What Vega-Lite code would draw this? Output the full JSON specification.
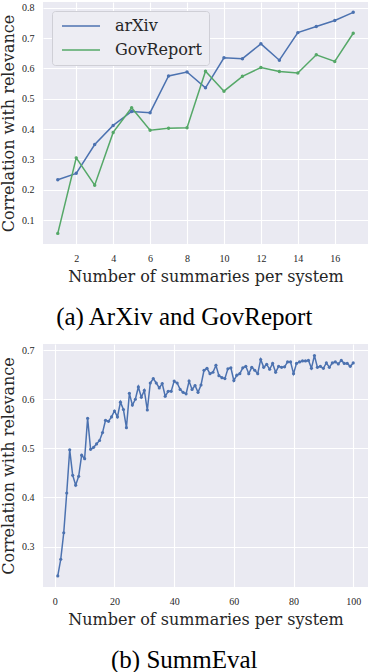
{
  "$schema": "https://vega.github.io/schema/vega-lite/v6.json",
  "padding": {"left": 0, "top": 2, "right": 0, "bottom": 0},
  "background": "white",
  "spacing": 14,
  "config": {
    "view": {"stroke": null, "fill": "#EAEAF2"},
    "axis": {
      "domain": false, "ticks": false, "tickSize": 0,
      "gridColor": "white", "gridWidth": 1.1,
      "labelFont": "Liberation Serif", "labelFontSize": 10, "labelColor": "#262626",
      "labelPadding": 9,
      "titleFont": "DejaVu Serif", "titleFontSize": 16, "titleFontWeight": "normal", "titleColor": "#262626"
    },
    "title": {"font": "Liberation Serif", "fontSize": 25, "fontWeight": "normal", "color": "black"}
  },
  "vconcat": [
    {
      "title": {"text": "(a) ArXiv and GovReport", "orient": "bottom", "anchor": "middle", "frame": "bounds", "offset": 21},
      "width": 325,
      "height": 242,
      "data": {"values": [
        {"n": 1, "series": "arXiv", "corr": 0.233},
        {"n": 2, "series": "arXiv", "corr": 0.254},
        {"n": 3, "series": "arXiv", "corr": 0.349},
        {"n": 4, "series": "arXiv", "corr": 0.412},
        {"n": 5, "series": "arXiv", "corr": 0.458},
        {"n": 6, "series": "arXiv", "corr": 0.454},
        {"n": 7, "series": "arXiv", "corr": 0.575},
        {"n": 8, "series": "arXiv", "corr": 0.588},
        {"n": 9, "series": "arXiv", "corr": 0.536},
        {"n": 10, "series": "arXiv", "corr": 0.635},
        {"n": 11, "series": "arXiv", "corr": 0.632},
        {"n": 12, "series": "arXiv", "corr": 0.681},
        {"n": 13, "series": "arXiv", "corr": 0.627},
        {"n": 14, "series": "arXiv", "corr": 0.718},
        {"n": 15, "series": "arXiv", "corr": 0.738},
        {"n": 16, "series": "arXiv", "corr": 0.758},
        {"n": 17, "series": "arXiv", "corr": 0.785},
        {"n": 1, "series": "GovReport", "corr": 0.056},
        {"n": 2, "series": "GovReport", "corr": 0.305},
        {"n": 3, "series": "GovReport", "corr": 0.215},
        {"n": 4, "series": "GovReport", "corr": 0.389},
        {"n": 5, "series": "GovReport", "corr": 0.470},
        {"n": 6, "series": "GovReport", "corr": 0.396},
        {"n": 7, "series": "GovReport", "corr": 0.403},
        {"n": 8, "series": "GovReport", "corr": 0.404},
        {"n": 9, "series": "GovReport", "corr": 0.591},
        {"n": 10, "series": "GovReport", "corr": 0.525},
        {"n": 11, "series": "GovReport", "corr": 0.574},
        {"n": 12, "series": "GovReport", "corr": 0.603},
        {"n": 13, "series": "GovReport", "corr": 0.590},
        {"n": 14, "series": "GovReport", "corr": 0.585},
        {"n": 15, "series": "GovReport", "corr": 0.645},
        {"n": 16, "series": "GovReport", "corr": 0.623},
        {"n": 17, "series": "GovReport", "corr": 0.716}
      ]},
      "mark": {"type": "line", "strokeWidth": 1.5, "point": {"size": 12, "filled": true}},
      "encoding": {
        "x": {"field": "n", "type": "quantitative", "title": "Number of summaries per system",
              "scale": {"domain": [0.2, 17.8], "nice": false, "zero": false},
              "axis": {"values": [2, 4, 6, 8, 10, 12, 14, 16], "titlePadding": 5}},
        "y": {"field": "corr", "type": "quantitative", "title": "Correlation with relevance",
              "scale": {"domain": [0.021, 0.819], "nice": false, "zero": false},
              "axis": {"values": [0.1, 0.2, 0.3, 0.4, 0.5, 0.6, 0.7, 0.8], "format": ".1f", "titlePadding": 5}},
        "color": {"field": "series", "type": "nominal",
                  "scale": {"domain": ["arXiv", "GovReport"], "range": ["#4C72B0", "#55A868"]},
                  "legend": {"orient": "none", "legendX": 9, "legendY": 9, "title": null,
                             "symbolType": "M-4.75,0H4.75", "symbolSize": 64, "symbolStrokeWidth": 1.5,
                             "symbolOffset": 14,
                             "labelFont": "DejaVu Serif", "labelFontSize": 16, "labelColor": "#262626",
                             "labelOffset": 26, "rowPadding": 8, "padding": 7,
                             "fillColor": "#EDEDF3", "strokeColor": "#CFCFD6", "cornerRadius": 3}}
      }
    },
    {
      "title": {"text": "(b) SummEval", "orient": "bottom", "anchor": "middle", "frame": "bounds", "offset": 21},
      "width": 325,
      "height": 243,
      "data": {"values": [
        {"n": 1, "corr": 0.240}, {"n": 2, "corr": 0.274}, {"n": 3, "corr": 0.328}, {"n": 4, "corr": 0.409},
        {"n": 5, "corr": 0.497}, {"n": 6, "corr": 0.445}, {"n": 7, "corr": 0.425}, {"n": 8, "corr": 0.443},
        {"n": 9, "corr": 0.486}, {"n": 10, "corr": 0.479}, {"n": 11, "corr": 0.561}, {"n": 12, "corr": 0.498},
        {"n": 13, "corr": 0.502}, {"n": 14, "corr": 0.509}, {"n": 15, "corr": 0.516}, {"n": 16, "corr": 0.532},
        {"n": 17, "corr": 0.557}, {"n": 18, "corr": 0.555}, {"n": 19, "corr": 0.564}, {"n": 20, "corr": 0.576},
        {"n": 21, "corr": 0.564}, {"n": 22, "corr": 0.594}, {"n": 23, "corr": 0.579}, {"n": 24, "corr": 0.542},
        {"n": 25, "corr": 0.612}, {"n": 26, "corr": 0.588}, {"n": 27, "corr": 0.600}, {"n": 28, "corr": 0.625},
        {"n": 29, "corr": 0.604}, {"n": 30, "corr": 0.618}, {"n": 31, "corr": 0.578}, {"n": 32, "corr": 0.633},
        {"n": 33, "corr": 0.642}, {"n": 34, "corr": 0.633}, {"n": 35, "corr": 0.623}, {"n": 36, "corr": 0.632},
        {"n": 37, "corr": 0.606}, {"n": 38, "corr": 0.616}, {"n": 39, "corr": 0.616}, {"n": 40, "corr": 0.637},
        {"n": 41, "corr": 0.633}, {"n": 42, "corr": 0.620}, {"n": 43, "corr": 0.614}, {"n": 44, "corr": 0.611},
        {"n": 45, "corr": 0.637}, {"n": 46, "corr": 0.620}, {"n": 47, "corr": 0.628}, {"n": 48, "corr": 0.614},
        {"n": 49, "corr": 0.629}, {"n": 50, "corr": 0.659}, {"n": 51, "corr": 0.663}, {"n": 52, "corr": 0.652},
        {"n": 53, "corr": 0.655}, {"n": 54, "corr": 0.669}, {"n": 55, "corr": 0.648}, {"n": 56, "corr": 0.644},
        {"n": 57, "corr": 0.642}, {"n": 58, "corr": 0.662}, {"n": 59, "corr": 0.664}, {"n": 60, "corr": 0.638},
        {"n": 61, "corr": 0.649}, {"n": 62, "corr": 0.652}, {"n": 63, "corr": 0.664}, {"n": 64, "corr": 0.667},
        {"n": 65, "corr": 0.652}, {"n": 66, "corr": 0.665}, {"n": 67, "corr": 0.659}, {"n": 68, "corr": 0.652},
        {"n": 69, "corr": 0.681}, {"n": 70, "corr": 0.665}, {"n": 71, "corr": 0.671}, {"n": 72, "corr": 0.661},
        {"n": 73, "corr": 0.673}, {"n": 74, "corr": 0.655}, {"n": 75, "corr": 0.667}, {"n": 76, "corr": 0.665},
        {"n": 77, "corr": 0.666}, {"n": 78, "corr": 0.676}, {"n": 79, "corr": 0.676}, {"n": 80, "corr": 0.652},
        {"n": 81, "corr": 0.673}, {"n": 82, "corr": 0.676}, {"n": 83, "corr": 0.678}, {"n": 84, "corr": 0.678},
        {"n": 85, "corr": 0.679}, {"n": 86, "corr": 0.663}, {"n": 87, "corr": 0.689}, {"n": 88, "corr": 0.665},
        {"n": 89, "corr": 0.667}, {"n": 90, "corr": 0.663}, {"n": 91, "corr": 0.674}, {"n": 92, "corr": 0.665},
        {"n": 93, "corr": 0.674}, {"n": 94, "corr": 0.676}, {"n": 95, "corr": 0.672}, {"n": 96, "corr": 0.679},
        {"n": 97, "corr": 0.673}, {"n": 98, "corr": 0.673}, {"n": 99, "corr": 0.667}, {"n": 100, "corr": 0.674}
      ]},
      "mark": {"type": "line", "strokeWidth": 1.5, "color": "#4C72B0", "point": {"size": 10, "filled": true, "color": "#4C72B0"}},
      "encoding": {
        "x": {"field": "n", "type": "quantitative", "title": "Number of summaries per system",
              "scale": {"domain": [-3.95, 104.95], "nice": false, "zero": false},
              "axis": {"values": [0, 20, 40, 60, 80, 100], "titlePadding": 5}},
        "y": {"field": "corr", "type": "quantitative", "title": "Correlation with relevance",
              "scale": {"domain": [0.2175, 0.7125], "nice": false, "zero": false},
              "axis": {"values": [0.3, 0.4, 0.5, 0.6, 0.7], "format": ".1f", "titlePadding": 5}}
      }
    }
  ]
}
